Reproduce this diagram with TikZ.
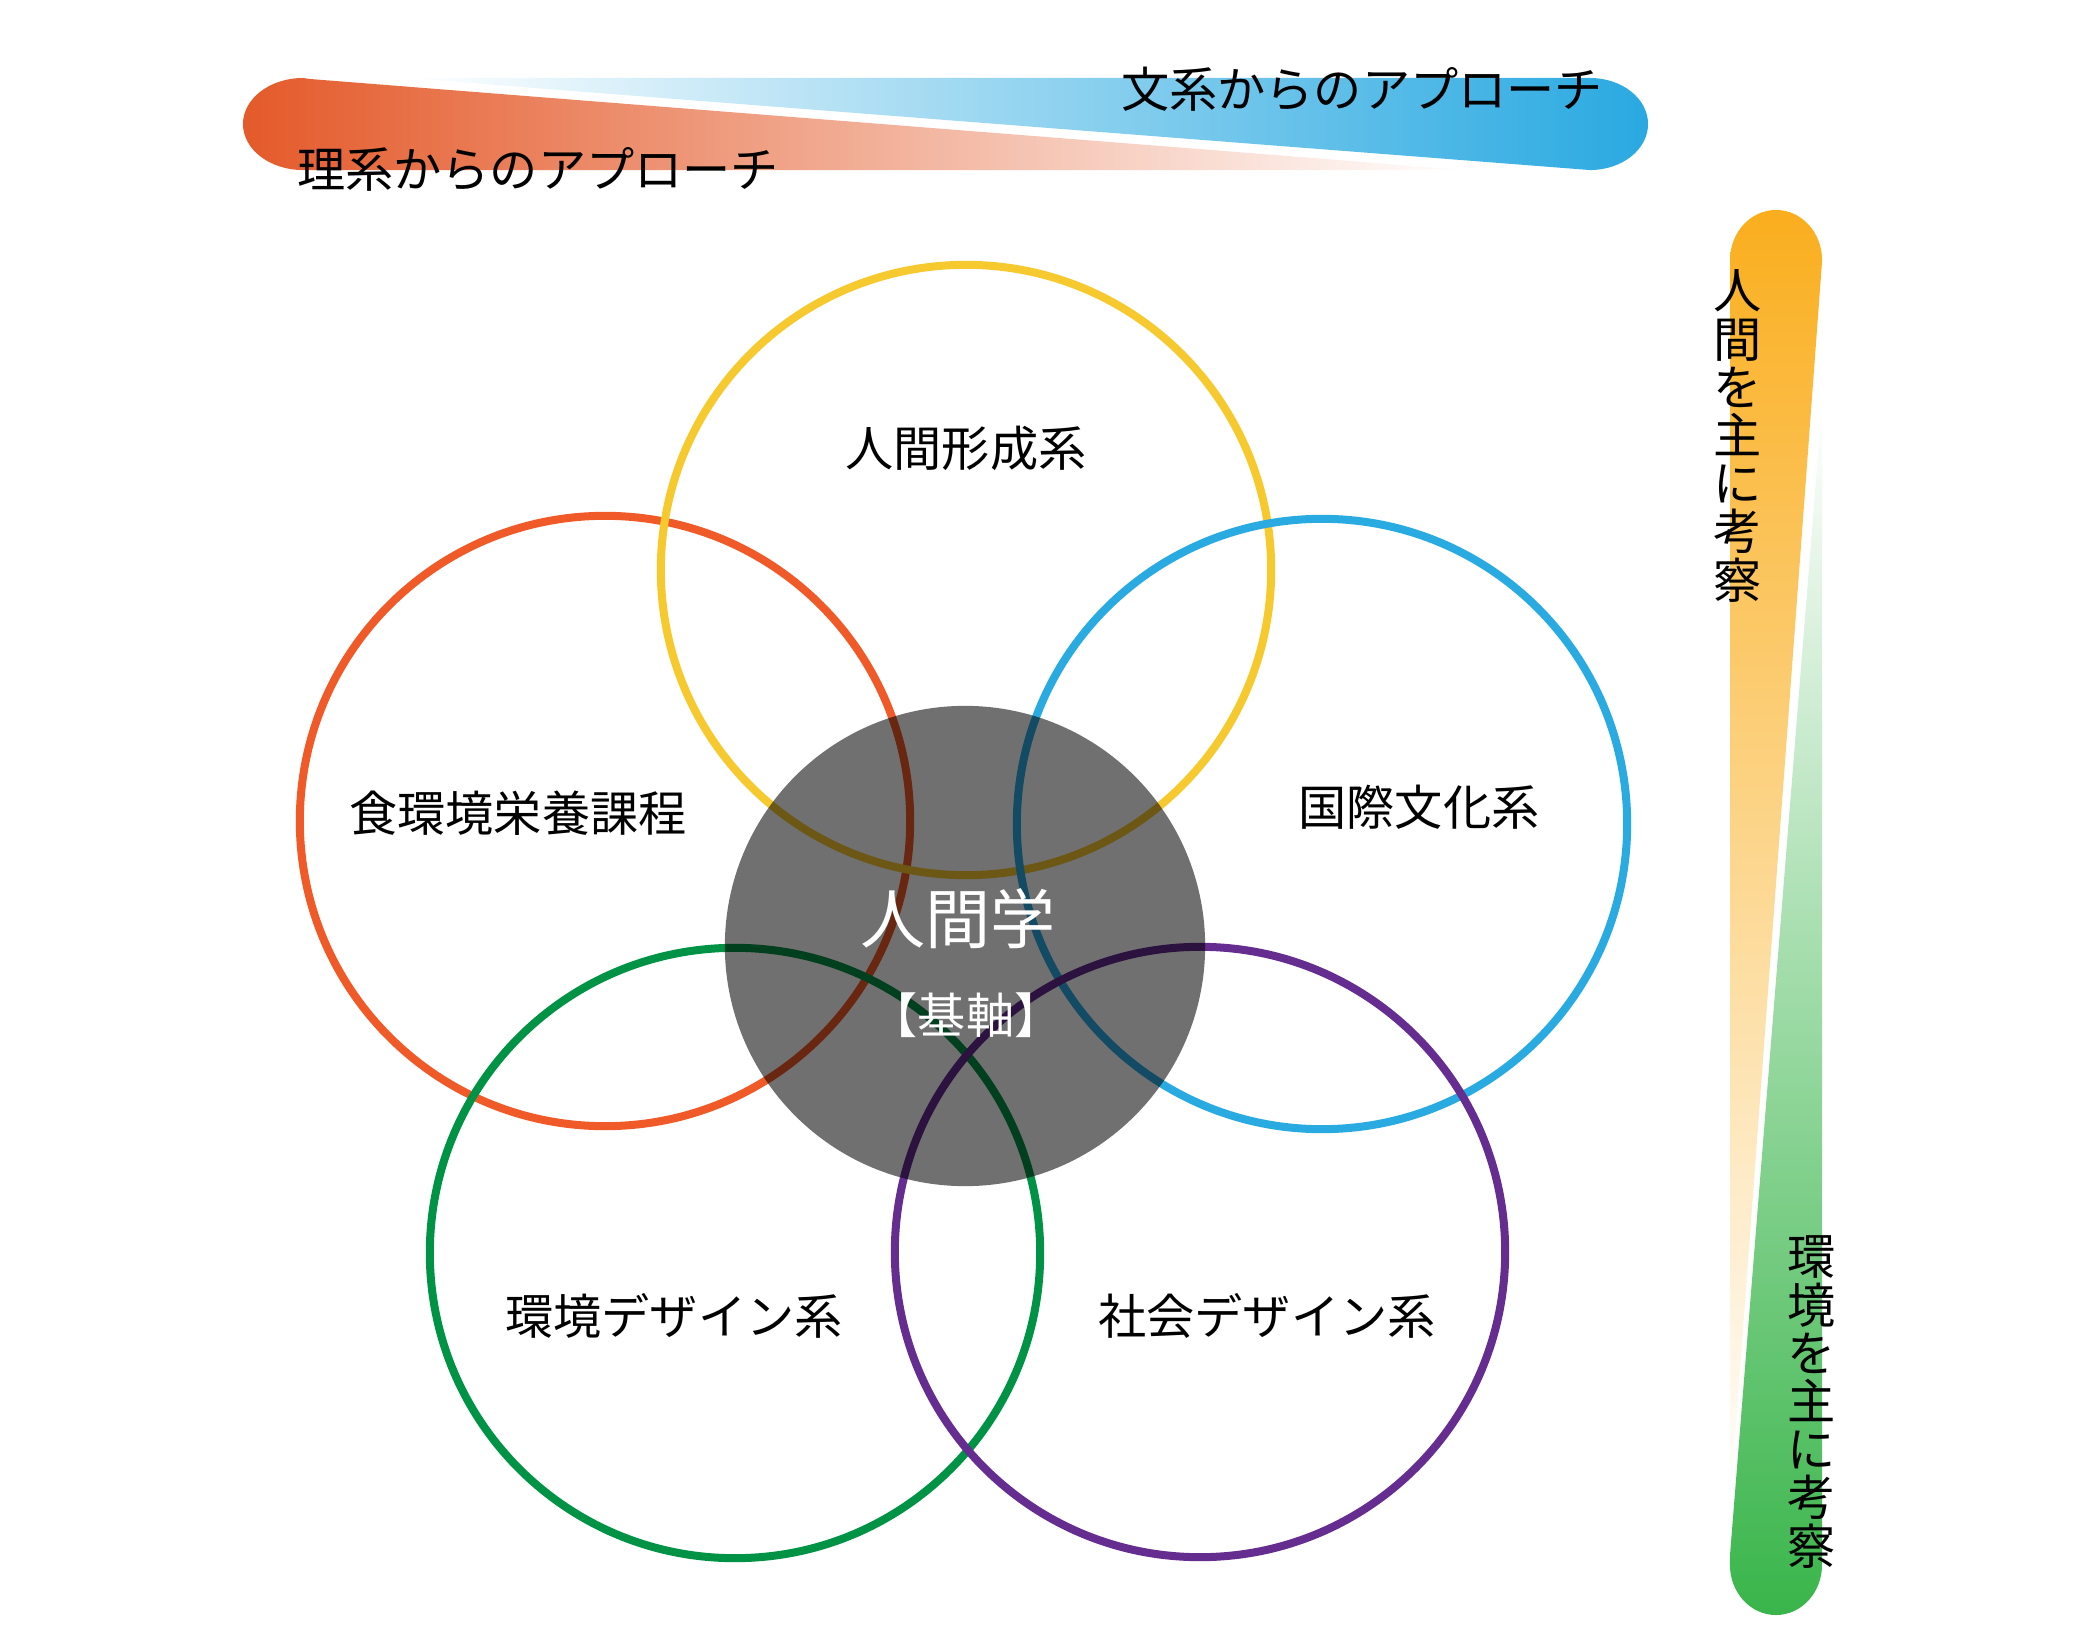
\documentclass[tikz,border=0pt]{standalone}
\usepackage{fontspec}
\setmainfont{Noto Sans CJK JP}
\definecolor{Coral}{HTML}{E45A2A}
\definecolor{Sky}{HTML}{29A9E1}
\definecolor{Amber}{HTML}{FAAE1E}
\definecolor{Leaf}{HTML}{39B54A}
\definecolor{Yellow}{HTML}{F6C92E}
\definecolor{Orange}{HTML}{F05A28}
\definecolor{Blue}{HTML}{29ABE2}
\definecolor{Green}{HTML}{009245}
\definecolor{Purple}{HTML}{662D91}

\begin{document}
\begin{tikzpicture}[x=0.01cm, y=-0.01cm,
    ring/.style={line width=0.08cm},
    lbl/.style={font=\fontsize{13.7}{13.7}\selectfont, inner sep=0pt}]
    \useasboundingbox (0,0) rectangle (2084,1649);
    % approach bars
    \shade[left color=Coral, right color=white] (310,79) -- (303,78) arc[start angle=90, end angle=270, x radius=0.6cm, y radius=0.46cm] -- (1465,170) -- cycle;
    \shade[left color=white, right color=Sky] (405,78) -- (1590,78) arc[start angle=90, end angle=-90, x radius=0.58cm, y radius=0.46cm] -- cycle;
    \shade[top color=Amber, bottom color=white] (1730,1505) -- (1730,260) arc[start angle=180, end angle=0, x radius=0.46cm, y radius=0.5cm] -- (1822,262) -- cycle;
    \shade[top color=white, bottom color=Leaf] (1822,405) -- (1822,1565) arc[start angle=0, end angle=-180, x radius=0.46cm, y radius=0.5cm] -- (1730,1555) -- cycle;
    % five fields
    \foreach \c/\x/\y in {Orange/605/821, Yellow/966/570, Blue/1322/824, Green/735/1253, Purple/1200/1252} {
        \draw[ring, \c] (\x,\y) circle[radius=3.05cm];
    }
    \fill[black, opacity=0.56] (965,946) circle[radius=2.4cm];
    % labels
    \node[lbl] (keisei) at (966,448) {人間形成系};
    \node[lbl] (shoku) at (518,813) {食環境栄養課程};
    \node[lbl] (kokusai) at (1419,807) {国際文化系};
    \node[lbl] (kankyo) at (674,1316) {環境デザイン系};
    \node[lbl] (shakai) at (1267,1316) {社会デザイン系};
    \node[lbl, white, font=\fontsize{18.5}{18.5}\selectfont] (ningen) at (958,919) {人間学};
    \node[lbl, white] (kijiku) at (966,1015) {【基軸】};
    \node[lbl] (rikei) at (538,169) {理系からのアプローチ};
    \node[lbl] (bunkei) at (1362,89) {文系からのアプローチ};
    \node[lbl, align=center] (ningenV) at (1738,436) {人\\間\\を\\主\\に\\考\\察};
    \node[lbl, align=center] (kankyoV) at (1812,1402) {環\\境\\を\\主\\に\\考\\察};
\end{tikzpicture}
\end{document}
